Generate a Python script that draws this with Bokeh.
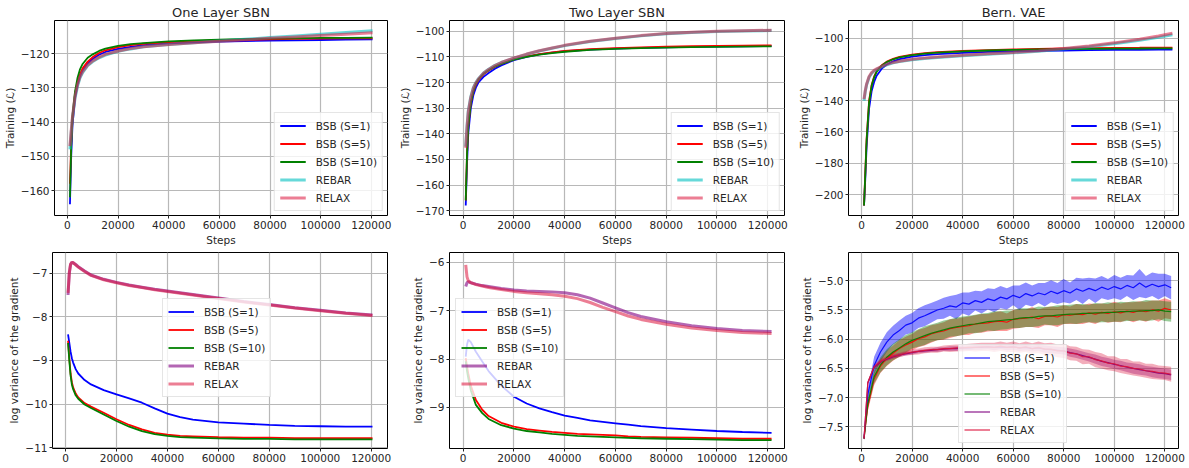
from bokeh.plotting import figure
from bokeh.models import Range1d, FixedTicker, CustomJSTickFormatter, Legend, LegendItem, Label
from bokeh.layouts import column, row
from bokeh.embed import file_html
from bokeh.resources import INLINE

FONT = "DejaVu Sans"
TXT = "#262626"

# ---------------- data ----------------
SERIES = ["BSB (S=1)", "BSB (S=5)", "BSB (S=10)", "REBAR", "RELAX"]
X_TICKS = [0, 20000, 40000, 60000, 80000, 100000, 120000]

# One Layer SBN (training objective)
steps1 = [1000, 1500, 2000, 3000, 4000, 5000, 6000, 8000, 10000, 12500, 15000, 20000, 25000, 30000,
          40000, 50000, 60000, 70000, 80000, 90000, 100000, 110000, 120500]
sbn1_bsb1 = [-164, -150, -141, -133, -129, -126.5, -124.8, -122.8, -121.5, -120.3, -119.5, -118.6, -118.0,
             -117.5, -117.0, -116.7, -116.5, -116.3, -116.2, -116.1, -116.0, -115.9, -115.8]
sbn1_bsb5 = [-158, -146, -139, -132, -128.3, -126, -124.3, -122.3, -121.0, -119.8, -119.0, -118.1, -117.5,
             -117.1, -116.6, -116.3, -116.1, -115.9, -115.8, -115.7, -115.6, -115.5, -115.5]
sbn1_bsb10 = [-162, -147, -138, -131, -127, -124.5, -123, -121.2, -120.2, -119.2, -118.5, -117.7, -117.2,
              -116.9, -116.4, -116.1, -115.9, -115.7, -115.6, -115.5, -115.4, -115.4, -115.3]
sbn1_rebar = [-148, -143, -139, -133, -129.5, -127, -125.5, -123.5, -122.3, -121.2, -120.4, -119.3, -118.6,
              -118.0, -117.3, -116.8, -116.3, -115.8, -115.3, -114.8, -114.3, -113.8, -113.3]
sbn1_relax = [-147, -142.5, -138.5, -132.5, -129, -126.7, -125.2, -123.3, -122.1, -121.0, -120.2, -119.2,
              -118.5, -118.0, -117.3, -116.8, -116.4, -116.0, -115.5, -115.1, -114.7, -114.3, -113.9]

# Two Layer SBN (training objective)
steps2 = [1000, 1500, 2000, 3000, 4000, 5000, 6000, 8000, 10000, 12500, 15000, 20000, 25000, 30000, 35000,
          40000, 50000, 60000, 70000, 80000, 90000, 100000, 110000, 121500]
sbn2_bsb1 = [-168, -152, -140, -130, -125, -122, -120, -117.8, -116.3, -114.6, -113.3, -111.3, -110.0, -109.0,
             -108.3, -107.8, -107.2, -106.8, -106.5, -106.3, -106.1, -106.0, -105.9, -105.8]
sbn2_bsb5 = [-166, -148, -137, -128, -123.5, -120.8, -119, -116.8, -115.3, -113.8, -112.7, -111.0, -109.8,
             -108.9, -108.2, -107.7, -107.0, -106.6, -106.3, -106.0, -105.8, -105.7, -105.6, -105.5]
sbn2_bsb10 = [-166, -148, -137, -128, -123.3, -120.6, -118.8, -116.6, -115.2, -113.8, -112.7, -111.1, -110.0,
              -109.1, -108.5, -108.0, -107.3, -106.9, -106.6, -106.4, -106.2, -106.1, -106.0, -105.9]
sbn2_rebar = [-145, -137, -131, -125.5, -122, -120, -118.5, -116.3, -114.8, -113.3, -112.2, -110.5, -109.0,
              -107.7, -106.6, -105.6, -104.0, -102.8, -101.8, -101.0, -100.5, -100.1, -99.9, -99.7]
sbn2_relax = [-145.5, -137.5, -131.5, -125.8, -122.2, -120.2, -118.6, -116.4, -114.9, -113.4, -112.2, -110.4,
              -108.9, -107.6, -106.5, -105.5, -103.9, -102.7, -101.7, -100.9, -100.4, -100.0, -99.8, -99.6]

# Bern. VAE (training objective)
steps3 = [1000, 1500, 2000, 3000, 4000, 5000, 6000, 8000, 10000, 12500, 15000, 20000, 25000, 30000, 40000,
          50000, 60000, 70000, 80000, 90000, 100000, 110000, 117500, 123000]
vae_bsb1 = [-207, -190, -170, -145, -134, -128, -124, -119.5, -116.8, -114.8, -113.4, -111.8, -110.8, -110.2,
            -109.4, -108.8, -108.4, -108.1, -107.9, -107.7, -107.5, -107.4, -107.3, -107.3]
vae_bsb5 = [-207, -186, -165, -140, -130, -124.5, -121, -117.3, -115.0, -113.2, -112.0, -110.5, -109.6, -109.0,
            -108.2, -107.6, -107.2, -106.9, -106.6, -106.4, -106.2, -106.1, -106.0, -106.0]
vae_bsb10 = [-207, -187, -166, -141, -130.5, -125, -121.5, -117.6, -115.3, -113.5, -112.3, -110.8, -109.9,
             -109.3, -108.5, -107.9, -107.5, -107.2, -107.0, -106.8, -106.7, -106.6, -106.5, -106.5]
vae_rebar = [-140, -134, -130, -125, -122.5, -121, -120, -118.3, -117.0, -115.8, -115.0, -113.8, -113.0,
             -112.3, -111.2, -110.3, -109.4, -108.3, -107.0, -105.5, -103.6, -101.4, -99.5, -97.8]
vae_relax = [-139, -133.5, -129.5, -124.5, -122, -120.6, -119.6, -118, -116.7, -115.5, -114.7, -113.5, -112.7,
             -112.0, -110.9, -110.0, -109.1, -108.0, -106.6, -105.0, -103.0, -100.7, -98.6, -96.8]

# One Layer SBN (log variance of gradient)
steps4 = [1000, 1500, 2000, 2500, 3000, 4000, 5000, 7500, 10000, 15000, 20000, 25000, 30000, 35000, 40000,
          45000, 50000, 60000, 70000, 80000, 90000, 100000, 110000, 120500]
var1_bsb1 = [-8.4, -8.6, -8.8, -8.95, -9.05, -9.2, -9.3, -9.45, -9.55, -9.68, -9.78, -9.87, -9.97, -10.1,
             -10.22, -10.3, -10.36, -10.42, -10.45, -10.48, -10.5, -10.51, -10.52, -10.52]
var1_bsb5 = [-8.55, -8.95, -9.3, -9.5, -9.62, -9.76, -9.85, -9.98, -10.06, -10.2, -10.35, -10.48, -10.58,
             -10.66, -10.7, -10.73, -10.74, -10.76, -10.77, -10.77, -10.78, -10.78, -10.78, -10.78]
var1_bsb10 = [-8.6, -9.0, -9.35, -9.55, -9.66, -9.8, -9.88, -10.01, -10.09, -10.24, -10.39, -10.52, -10.62,
              -10.69, -10.73, -10.76, -10.77, -10.79, -10.8, -10.8, -10.81, -10.81, -10.81, -10.81]
var1_rebar = [-7.5, -7.0, -6.8, -6.75, -6.76, -6.8, -6.85, -6.95, -7.04, -7.14, -7.21, -7.27, -7.32, -7.37,
              -7.41, -7.45, -7.49, -7.57, -7.65, -7.72, -7.79, -7.85, -7.91, -7.96]
var1_relax = [-7.45, -6.98, -6.79, -6.75, -6.76, -6.81, -6.86, -6.96, -7.05, -7.15, -7.22, -7.28, -7.33,
              -7.38, -7.42, -7.46, -7.5, -7.58, -7.66, -7.73, -7.8, -7.86, -7.92, -7.97]

# Two Layer SBN (log variance of gradient)
steps5 = [1000, 1500, 2000, 3000, 5000, 7500, 10000, 15000, 20000, 25000, 30000, 35000, 40000, 45000, 50000,
          55000, 60000, 65000, 70000, 80000, 90000, 100000, 110000, 121500]
var2_bsb1 = [-7.95, -7.7, -7.6, -7.65, -7.85, -8.05, -8.25, -8.55, -8.78, -8.92, -9.02, -9.1, -9.17, -9.22,
             -9.27, -9.3, -9.33, -9.36, -9.39, -9.43, -9.46, -9.49, -9.51, -9.53]
var2_bsb5 = [-7.98, -8.15, -8.3, -8.55, -8.85, -9.05, -9.18, -9.32, -9.4, -9.45, -9.48, -9.51, -9.53, -9.55,
             -9.56, -9.57, -9.58, -9.6, -9.61, -9.62, -9.63, -9.64, -9.65, -9.65]
var2_bsb10 = [-8.05, -8.25, -8.4, -8.65, -8.95, -9.12, -9.24, -9.37, -9.44, -9.49, -9.52, -9.55, -9.57,
              -9.59, -9.6, -9.61, -9.62, -9.63, -9.64, -9.65, -9.66, -9.67, -9.68, -9.68]
var2_rebar = [-6.5, -6.42, -6.4, -6.42, -6.45, -6.48, -6.5, -6.54, -6.57, -6.59, -6.6, -6.61, -6.63, -6.67,
              -6.74, -6.84, -6.94, -7.04, -7.12, -7.23, -7.31, -7.37, -7.41, -7.43]
var2_relax = [-6.05, -6.3, -6.38, -6.42, -6.46, -6.49, -6.52, -6.56, -6.6, -6.63, -6.65, -6.67, -6.7, -6.75,
              -6.83, -6.93, -7.02, -7.11, -7.18, -7.28, -7.36, -7.41, -7.45, -7.47]

# Bern. VAE (log variance of gradient), mean and band half-width
steps6 = [1000, 2500, 5000, 7500, 10000, 12500, 15000, 17500, 20000, 22500, 25000, 27500, 30000, 32500,
          35000, 37500, 40000, 42500, 45000, 47500, 50000, 52500, 55000, 57500, 60000, 62500, 65000, 67500,
          70000, 72500, 75000, 77500, 80000, 82500, 85000, 87500, 90000, 92500, 95000, 97500, 100000,
          102500, 105000, 107500, 110000, 112500, 115000, 117500, 120000, 122500]
var3_bsb1 = [-7.70, -6.95, -6.45, -6.22, -6.05, -5.93, -5.85, -5.76, -5.72, -5.64, -5.60, -5.55, -5.50, -5.47,
             -5.43, -5.45, -5.38, -5.40, -5.34, -5.37, -5.31, -5.34, -5.28, -5.31, -5.25, -5.29, -5.22, -5.26,
             -5.21, -5.24, -5.18, -5.22, -5.17, -5.21, -5.14, -5.18, -5.13, -5.17, -5.11, -5.15, -5.10, -5.14,
             -5.08, -5.12, -5.04, -5.11, -5.06, -5.10, -5.07, -5.12]
var3_bsb1_sd = [0.03, 0.10, 0.15, 0.16, 0.17, 0.16, 0.17, 0.16, 0.17, 0.17, 0.18, 0.17, 0.16, 0.18, 0.17,
                0.21, 0.18, 0.20, 0.17, 0.19, 0.18, 0.20, 0.19, 0.18, 0.17, 0.21, 0.19, 0.18, 0.17, 0.20,
                0.19, 0.18, 0.20, 0.18, 0.19, 0.22, 0.18, 0.21, 0.19, 0.18, 0.20, 0.19, 0.18, 0.21, 0.24,
                0.19, 0.20, 0.22, 0.19, 0.20]
var3_bsb5 = [-7.70, -7.15, -6.68, -6.46, -6.33, -6.24, -6.16, -6.10, -6.05, -5.99, -5.96, -5.91, -5.88, -5.86,
             -5.82, -5.80, -5.78, -5.77, -5.74, -5.73, -5.72, -5.70, -5.69, -5.71, -5.66, -5.65, -5.64, -5.62,
             -5.65, -5.61, -5.60, -5.62, -5.58, -5.59, -5.57, -5.58, -5.55, -5.57, -5.54, -5.56, -5.53, -5.55,
             -5.52, -5.54, -5.51, -5.53, -5.50, -5.52, -5.47, -5.50]
var3_bsb5_sd = [0.03, 0.08, 0.11, 0.12, 0.13, 0.13, 0.14, 0.14, 0.14, 0.15, 0.15, 0.15, 0.14, 0.15, 0.16,
                0.15, 0.15, 0.16, 0.15, 0.16, 0.15, 0.16, 0.17, 0.15, 0.16, 0.16, 0.15, 0.17, 0.16, 0.15,
                0.16, 0.17, 0.16, 0.15, 0.17, 0.16, 0.16, 0.17, 0.15, 0.16, 0.17, 0.16, 0.15, 0.17, 0.16,
                0.17, 0.16, 0.18, 0.17, 0.16]
var3_bsb10 = [-7.70, -7.10, -6.64, -6.44, -6.31, -6.22, -6.15, -6.08, -6.02, -5.98, -5.94, -5.90, -5.87,
              -5.84, -5.81, -5.79, -5.77, -5.75, -5.74, -5.72, -5.70, -5.69, -5.68, -5.67, -5.66, -5.64,
              -5.63, -5.63, -5.61, -5.60, -5.60, -5.59, -5.58, -5.57, -5.57, -5.56, -5.56, -5.55, -5.55,
              -5.54, -5.54, -5.53, -5.53, -5.52, -5.52, -5.51, -5.51, -5.50, -5.52, -5.53]
var3_bsb10_sd = [0.03, 0.09, 0.12, 0.13, 0.14, 0.14, 0.15, 0.15, 0.14, 0.15, 0.16, 0.15, 0.15, 0.16, 0.15,
                 0.16, 0.16, 0.15, 0.16, 0.16, 0.15, 0.17, 0.16, 0.16, 0.15, 0.17, 0.16, 0.16, 0.17, 0.15,
                 0.16, 0.17, 0.16, 0.16, 0.17, 0.16, 0.15, 0.17, 0.16, 0.17, 0.16, 0.17, 0.16, 0.17, 0.16,
                 0.18, 0.17, 0.16, 0.17, 0.17]
var3_rebar = [-7.70, -6.75, -6.48, -6.39, -6.34, -6.30, -6.27, -6.25, -6.23, -6.21, -6.20, -6.19, -6.18,
              -6.17, -6.16, -6.16, -6.15, -6.15, -6.14, -6.14, -6.13, -6.14, -6.13, -6.14, -6.13, -6.15,
              -6.14, -6.16, -6.15, -6.17, -6.18, -6.19, -6.20, -6.23, -6.25, -6.28, -6.31, -6.34, -6.38,
              -6.40, -6.43, -6.45, -6.48, -6.50, -6.52, -6.54, -6.56, -6.58, -6.59, -6.61]
var3_rebar_sd = [0.02, 0.03, 0.03, 0.03, 0.03, 0.03, 0.03, 0.03, 0.03, 0.03, 0.03, 0.03, 0.04, 0.03, 0.04,
                 0.04, 0.04, 0.04, 0.04, 0.04, 0.04, 0.05, 0.04, 0.05, 0.05, 0.05, 0.05, 0.05, 0.05, 0.06,
                 0.06, 0.06, 0.06, 0.07, 0.07, 0.07, 0.07, 0.08, 0.08, 0.08, 0.08, 0.08, 0.08, 0.09, 0.09,
                 0.08, 0.09, 0.09, 0.09, 0.09]
var3_relax = [-7.70, -6.74, -6.47, -6.38, -6.33, -6.29, -6.27, -6.24, -6.22, -6.21, -6.19, -6.18, -6.18,
              -6.16, -6.16, -6.15, -6.15, -6.14, -6.14, -6.13, -6.13, -6.14, -6.12, -6.14, -6.13, -6.15,
              -6.13, -6.16, -6.14, -6.17, -6.17, -6.20, -6.20, -6.24, -6.25, -6.30, -6.30, -6.35, -6.37,
              -6.41, -6.42, -6.46, -6.47, -6.50, -6.51, -6.54, -6.55, -6.57, -6.58, -6.60]
var3_relax_sd = [0.02, 0.03, 0.04, 0.04, 0.04, 0.04, 0.04, 0.04, 0.05, 0.05, 0.05, 0.05, 0.05, 0.05, 0.06,
                 0.06, 0.06, 0.06, 0.07, 0.07, 0.07, 0.08, 0.08, 0.08, 0.09, 0.08, 0.09, 0.09, 0.10, 0.10,
                 0.11, 0.11, 0.12, 0.12, 0.12, 0.13, 0.12, 0.13, 0.13, 0.12, 0.13, 0.12, 0.13, 0.12, 0.13,
                 0.12, 0.13, 0.12, 0.12, 0.13]

# ---------------- styling ----------------
C_BLUE, C_RED, C_GREEN = "#0000ff", "#ff0000", "#008000"
C_REBAR_TOP, C_REBAR_BOT, C_RELAX = "#00bfbf", "#800080", "#dc143c"

X_FMT = CustomJSTickFormatter(code="return tick.toFixed(0);")


def y_fmt(dec):
    return CustomJSTickFormatter(code="return (tick < 0 ? '\\u2212' : '') + Math.abs(tick).toFixed(%d);" % dec)


def make_fig(width, height, left, right, top, bottom, xr, yr, yticks, ydec, title, ylabel, xlabel):
    p = figure(width=width, height=height, x_range=Range1d(*xr), y_range=Range1d(*yr),
               output_backend="svg", toolbar_location=None,
               min_border_left=left, min_border_right=right, min_border_top=top, min_border_bottom=bottom)
    p.background_fill_color = "white"
    p.border_fill_color = "white"
    p.outline_line_color = "black"
    p.outline_line_width = 1
    if title:
        p.title.text = title
        p.title.align = "center"
        p.title.text_font = FONT
        p.title.text_font_size = "13px"
        p.title.text_font_style = "normal"
        p.title.text_color = TXT
        p.title.standoff = 2
    p.xaxis.ticker = FixedTicker(ticks=X_TICKS)
    p.xaxis.formatter = X_FMT
    p.yaxis.ticker = FixedTicker(ticks=yticks)
    p.yaxis.formatter = y_fmt(ydec)
    p.xaxis.axis_label = "Steps" if xlabel else None
    p.yaxis.axis_label = ylabel
    for ax in (p.xaxis[0], p.yaxis[0]):
        ax.major_label_text_font = FONT
        ax.major_label_text_font_size = "10.5px"
        ax.major_label_text_color = TXT
        ax.axis_label_text_font = FONT
        ax.axis_label_text_font_size = "10.5px"
        ax.axis_label_text_font_style = "normal"
        ax.axis_label_text_color = TXT
        ax.major_tick_out = 3
        ax.major_tick_in = 0
        ax.minor_tick_out = 0
        ax.minor_tick_in = 0
        ax.axis_line_color = None
        ax.major_tick_line_color = TXT
        ax.major_label_standoff = 2
        ax.axis_label_standoff = 2
    p.grid.grid_line_color = "#b8b8b8"
    p.grid.grid_line_width = 1.2
    if not xlabel:
        p.add_layout(Label(x=(xr[0] + xr[1]) / 2, y=-17, x_units="data", y_units="screen", text="Steps",
                           text_align="center", text_baseline="top", text_font=FONT,
                           text_font_size="10.5px", text_color=TXT))
    return p


def add_legend(p, renderers, location):
    items = [LegendItem(label=lab, renderers=[r]) for lab, r in zip(SERIES, renderers)]
    lg = Legend(items=items, location=location, margin=4,
                label_text_font=FONT, label_text_font_size="10.5px", label_text_color=TXT,
                glyph_width=26, glyph_height=15, label_height=15, spacing=3, padding=5,
                label_standoff=10, border_line_color="#cccccc", border_line_width=1,
                background_fill_color="white", background_fill_alpha=0.8)
    p.add_layout(lg)


def draw_lines(p, x, ys, colors, alphas, widths):
    rs = []
    for y, c, a, w in zip(ys, colors, alphas, widths):
        rs.append(p.line(x, y, line_color=c, line_alpha=a, line_width=w))
    return rs


TOP_COLORS = [C_BLUE, C_RED, C_GREEN, C_REBAR_TOP, C_RELAX]
BOT_COLORS = [C_BLUE, C_RED, C_GREEN, C_REBAR_BOT, C_RELAX]
ALPHAS = [1, 1, 1, 0.6, 0.55]
WIDTHS = [1.8, 1.8, 1.8, 3, 3]

XR1, XR2, XR3 = (-5100, 126400), (-5400, 126600), (-5140, 125400)
TRAIN = "Training (\u2112)"
LOGVAR = "log variance of the gradient"

# Row 1
p1 = make_fig(395, 248, 52, 8, 20, 32, XR1, (-167.3, -110.3), [-160, -150, -140, -130, -120], 0,
              "One Layer SBN", TRAIN, True)
r = draw_lines(p1, steps1, [sbn1_bsb1, sbn1_bsb5, sbn1_bsb10, sbn1_rebar, sbn1_relax], TOP_COLORS, ALPHAS, WIDTHS)
add_legend(p1, r, "bottom_right")

p2 = make_fig(395, 248, 54, 6, 20, 33, XR2, (-171.9, -95.8), [-170, -160, -150, -140, -130, -120, -110, -100], 0,
              "Two Layer SBN", TRAIN, True)
r = draw_lines(p2, steps2, [sbn2_bsb1, sbn2_bsb5, sbn2_bsb10, sbn2_rebar, sbn2_relax], TOP_COLORS, ALPHAS, WIDTHS)
add_legend(p2, r, "bottom_right")

p3 = make_fig(399, 248, 58, 11, 20, 33, XR3, (-213.4, -88.7), [-200, -180, -160, -140, -120, -100], 0,
              "Bern. VAE", TRAIN, True)
r = draw_lines(p3, steps3, [vae_bsb1, vae_bsb5, vae_bsb10, vae_rebar, vae_relax], TOP_COLORS, ALPHAS, WIDTHS)
add_legend(p3, r, "bottom_right")

# Row 2
p4 = make_fig(395, 220, 52, 8, 4, 20, XR1, (-11.02, -6.525), [-11, -10, -9, -8, -7], 0, None, LOGVAR, False)
r = draw_lines(p4, steps4, [var1_bsb1, var1_bsb5, var1_bsb10, var1_rebar, var1_relax], BOT_COLORS, ALPHAS, WIDTHS)
add_legend(p4, r, (110, 51))

p5 = make_fig(395, 220, 54, 6, 2, 20, XR2, (-9.852, -5.795), [-9, -8, -7, -6], 0, None, LOGVAR, False)
r = draw_lines(p5, steps5, [var2_bsb1, var2_bsb5, var2_bsb10, var2_rebar, var2_relax], BOT_COLORS, ALPHAS, WIDTHS)
add_legend(p5, r, (6, 51))

p6 = make_fig(399, 220, 58, 11, 4, 20, XR3, (-7.87, -4.517), [-7.5, -7.0, -6.5, -6.0, -5.5, -5.0], 1,
              None, LOGVAR, False)
means6 = [var3_bsb1, var3_bsb5, var3_bsb10, var3_rebar, var3_relax]
sds6 = [var3_bsb1_sd, var3_bsb5_sd, var3_bsb10_sd, var3_rebar_sd, var3_relax_sd]
band_alpha = [0.45, 0.4, 0.4, 0.35, 0.35]
lines6 = []
for m, s, c, ba in zip(means6, sds6, BOT_COLORS, band_alpha):
    lo = [a - b for a, b in zip(m, s)]
    hi = [a + b for a, b in zip(m, s)]
    p6.varea(x=steps6, y1=lo, y2=hi, fill_color=c, fill_alpha=ba)
for m, c in zip(means6, BOT_COLORS):
    lines6.append(p6.line(steps6, m, line_color=c, line_width=1.2, line_alpha=0.9))
add_legend(p6, lines6, (110, 5))

layout = column(row(p1, p2, p3), row(p4, p5, p6))
open("out.html", "w", encoding="utf-8").write(file_html(layout, INLINE))
